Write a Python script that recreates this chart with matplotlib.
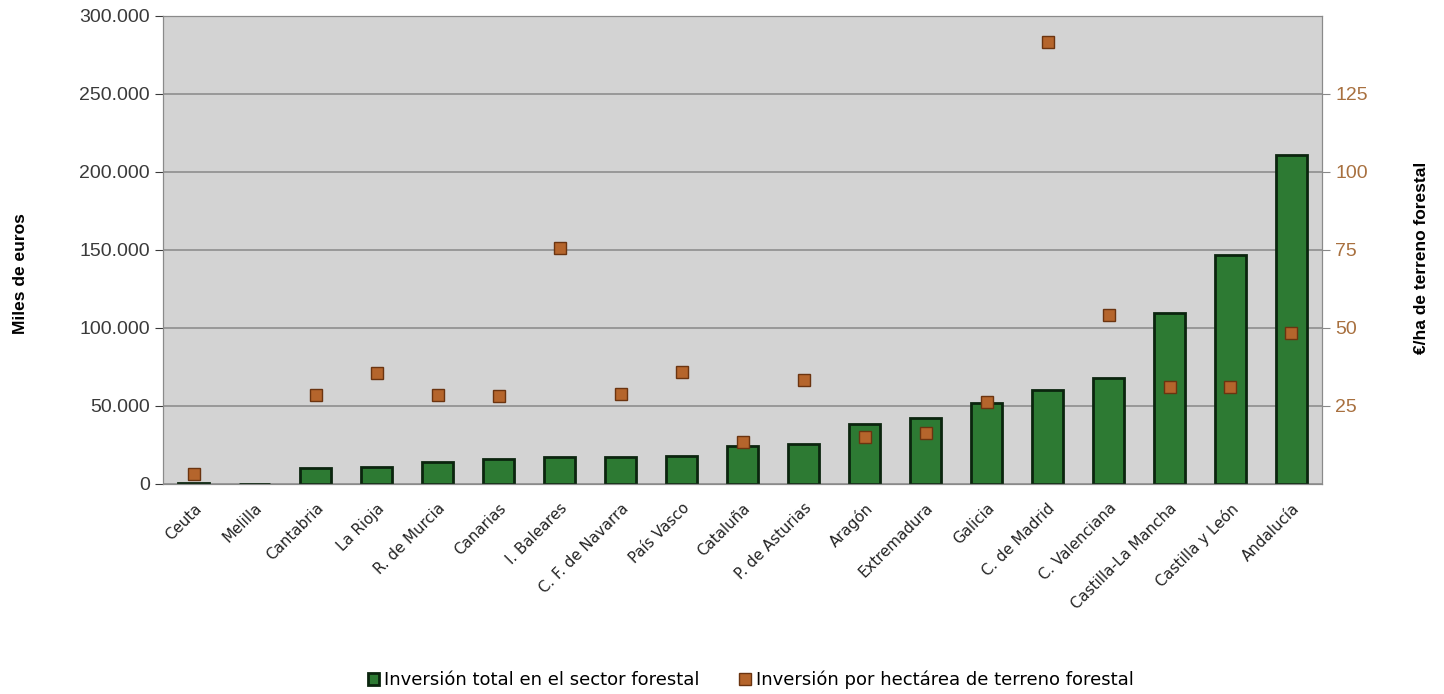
import matplotlib.pyplot as plt
import numpy as np
from matplotlib.ticker import FuncFormatter

plt.rcParams['font.family'] = ['Liberation Sans', 'DejaVu Sans']

# datos
comunidades = ["Ceuta", "Melilla", "Cantabria", "La Rioja", "R. de Murcia", "Canarias",
               "I. Baleares", "C. F. de Navarra", "País Vasco", "Cataluña", "P. de Asturias",
               "Aragón", "Extremadura", "Galicia", "C. de Madrid", "C. Valenciana",
               "Castilla-La Mancha", "Castilla y León", "Andalucía"]
inversion_total = [400, 300, 10300, 10900, 14100, 16000, 17300, 17300, 18000, 24400,
                   25600, 38500, 42300, 52000, 60300, 68000, 109600, 146800, 211000]
inversion_ha = [3.2, np.nan, 28.5, 35.6, 28.5, 28.2, 75.6, 28.8, 35.9, 13.5,
                33.3, 15.0, 16.3, 26.2, 141.7, 54.2, 31.1, 31.0, 48.4]

verde = "#2d7a33"
naranja = "#b5652c"

fig = plt.figure(figsize=(14.44, 6.94), dpi=100)
ax = fig.add_axes([0.113, 0.3026, 0.8025, 0.6744])
ax2 = ax.twinx()

x = np.arange(len(comunidades))

ax.set_facecolor("#d3d3d3")
ax.set_axisbelow(True)
ax.grid(axis="y", color="#8e8e8e", linewidth=1.2)
ax.bar(x, inversion_total, width=0.5, color=verde, edgecolor="#0b250e", linewidth=2,
       label="Inversión total en el sector forestal", zorder=2)

ax2.plot(x, inversion_ha, linestyle="none", marker="s", markersize=9,
         markerfacecolor=naranja, markeredgecolor="#6b3410", markeredgewidth=1,
         label="Inversión por hectárea de terreno forestal", zorder=3)

ax.set_xlim(-0.5, len(comunidades) - 0.5)
ax.set_ylim(0, 300000)
ax.set_yticks(np.arange(0, 300001, 50000))
ax.yaxis.set_major_formatter(FuncFormatter(lambda v, p: f"{int(v):,}".replace(",", ".")))
ax2.set_ylim(0, 150)
ax2.set_yticks([25, 50, 75, 100, 125])

ax.set_xticks(x)
ax.set_xticklabels(comunidades, rotation=45, ha="right", rotation_mode="anchor",
                   fontsize=10.8, color="#222222", family=["DejaVu Sans"])
ax.tick_params(axis="y", labelsize=14, colors="#3a3a3a", length=6)
ax.tick_params(axis="x", length=0, pad=12)
ax2.tick_params(axis="y", labelsize=14, labelcolor="#a8703f", color="#888888", length=6)

for a in (ax, ax2):
    for s in a.spines.values():
        s.set_color("#8a8a8a")

ax.set_ylabel("Miles de euros", fontsize=12.5, fontweight="bold")
ax.yaxis.set_label_coords(-0.117, 0.45)
ax2.set_ylabel("€/ha de terreno forestal", fontsize=12.5, fontweight="bold")
ax2.yaxis.set_label_coords(1.079, 0.483)

h1, l1 = ax.get_legend_handles_labels()
h2, l2 = ax2.get_legend_handles_labels()
fig.legend(h1 + h2, l1 + l2, loc="center", bbox_to_anchor=(0.52, 0.02), ncol=2,
           frameon=False, prop={"family": "DejaVu Sans", "size": 13},
           handlelength=0.6, handletextpad=0.3, columnspacing=2.2)

fig.savefig("out.png", dpi=100)
